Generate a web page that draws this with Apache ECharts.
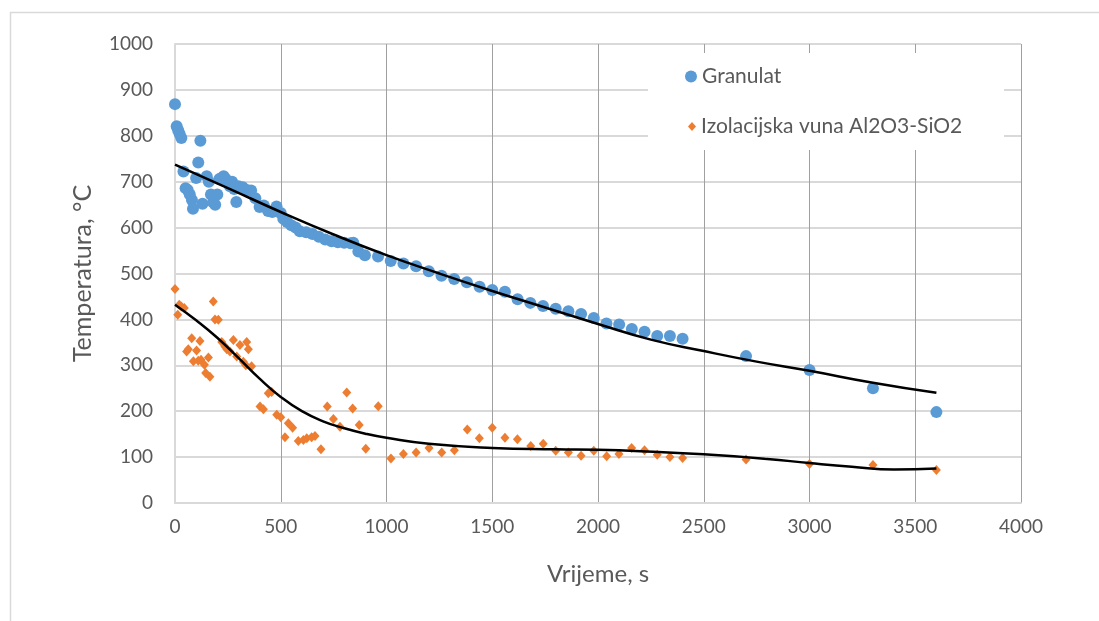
<!DOCTYPE html>
<html>
<head>
<meta charset="utf-8">
<script src="https://cdn.jsdelivr.net/npm/echarts@6/dist/echarts.min.js"></script>
<style>
html,body{margin:0;padding:0;background:#fff;}
#c{width:1099px;height:621px;}
</style>
</head>
<body>
<div id="c"></div>
<script>
// Granulat (time s, temperature °C)
const granulatTime = [0,8,15,22,30,40,50,60,70,80,85,100,110,120,130,150,160,170,180,190,200,210,220,230,240,250,260,270,280,290,300,320,340,360,380,400,420,440,460,480,500,512,530,550,570,590,620,650,680,710,740,770,800,830,843,867,898,960,1020,1080,1140,1200,1260,1320,1380,1440,1500,1560,1620,1680,1740,1800,1860,1920,1980,2040,2100,2160,2220,2280,2340,2400,2700,3000,3300,3600];
const granulatTemp = [869,821,812,804,795,722,686,682,672,660,641,708,742,789,652,712,700,672,655,650,672,706,708,712,706,698,690,700,684,656,690,688,682,681,664,645,648,636,634,646,632,619,612,605,600,592,590,586,580,574,570,568,567,566,567,548,540,537,527,522,516,505,495,488,481,471,464,460,444,436,429,423,418,412,403,391,389,379,373,364,364,358,320,290,250,198];

// Izolacijska vuna Al2O3-SiO2 (time s, temperature °C)
const vunaTime = [0,13,20,30,44,55,63,79,87,102,110,118,123,139,145,158,165,181,189,205,221,236,245,260,276,292,307,323,335,339,347,362,402,418,441,457,481,500,520,536,556,583,607,623,646,662,690,720,749,780,812,840,871,902,961,1021,1080,1140,1201,1261,1321,1382,1439,1500,1560,1619,1682,1741,1800,1860,1920,1980,2041,2099,2159,2220,2280,2340,2400,2700,3000,3300,3600];
const vunaTemp = [466,410,432,428,425,330,335,359,309,332,310,353,312,301,283,317,275,439,400,399,351,341,335,330,355,319,344,308,300,351,335,298,210,204,239,242,192,187,143,174,164,135,137,141,143,146,117,210,183,166,241,206,170,118,211,97,107,110,120,110,115,160,141,164,142,139,124,129,114,110,103,114,102,107,120,115,105,100,98,95,85,83,72];

// Trendlines
const granulatTrendTime = [0,250,500,750,1000,1250,1500,1750,2000,2250,2500,2750,3000,3300,3600];
const granulatTrendTemp = [737,686,634,585,540,500,462,426,390,356,331,308,288,262,240];
const vunaTrendTime = [0,100,200,300,400,500,600,700,800,900,1000,1200,1500,1800,2000,2200,2500,2800,3000,3200,3400,3600];
const vunaTrendTemp = [432,398,360,316,271,231,200,178,163,151,142,129,120,117,116,113,106,96,87,79,73,75];

const xTicks = [0,500,1000,1500,2000,2500,3000,3500,4000];
const yTicks = [0,100,200,300,400,500,600,700,800,900,1000];

const seriesNames = ['Granulat','Izolacijska vuna Al2O3-SiO2'];
const xTitle = 'Vrijeme, s';
const yTitle = 'Temperatura, °C';

const zip = (a,b) => a.map((v,i)=>[v,b[i]]);
const FONT = 'Lato, "Open Sans", sans-serif';
const TXT = '#595959';

const chart = echarts.init(document.getElementById('c'), null, {renderer:'canvas'});
chart.setOption({
  animation:false,
  backgroundColor:'#fff',
  graphic:[
    {type:'rect', left:8, top:10, shape:{width:1200, height:700}, style:{fill:'none', stroke:'#d9d9d9', lineWidth:1.5}, z:0, silent:true},
    {type:'rect', left:648, top:53, shape:{width:356, height:97}, style:{fill:'#ffffff'}, z:5, silent:true}
  ],
  grid:{left:175, right:78, top:44, bottom:118, containLabel:false},
  legend:[
    {data:[{name:seriesNames[0], icon:'circle'}], left:685, top:66, padding:0, itemWidth:12, itemHeight:12,
     textStyle:{fontFamily:FONT, fontSize:21, color:TXT}, z:10, selectedMode:false},
    {data:[{name:seriesNames[1], icon:'diamond'}], left:688, top:116, padding:0, itemWidth:8, itemHeight:9,
     textStyle:{fontFamily:FONT, fontSize:21, color:TXT}, z:10, selectedMode:false}
  ],
  xAxis:{
    type:'value', min:xTicks[0], max:xTicks[xTicks.length-1], interval:500,
    name:xTitle, nameLocation:'middle', nameGap:59,
    nameTextStyle:{fontFamily:FONT, fontSize:24, color:TXT},
    axisLine:{show:true, onZero:false, lineStyle:{color:'#d9d9d9', width:2}},
    axisTick:{show:false},
    axisLabel:{fontFamily:FONT, fontSize:19, color:TXT, margin:14, formatter:v=>String(v)},
    splitLine:{show:true, showMinLine:false, lineStyle:{color:'#a0a0a0', width:1}}
  },
  yAxis:{
    type:'value', min:yTicks[0], max:yTicks[yTicks.length-1], interval:100,
    name:yTitle, nameLocation:'middle', nameGap:80, nameRotate:90,
    nameTextStyle:{fontFamily:FONT, fontSize:25, color:TXT},
    axisLine:{show:true, lineStyle:{color:'#d9d9d9', width:2}},
    axisTick:{show:false},
    axisLabel:{fontFamily:FONT, fontSize:19, color:TXT, margin:22, formatter:v=>String(v)},
    splitLine:{show:true, lineStyle:{color:'#d9d9d9', width:2}}
  },
  series:[
    {name:seriesNames[0], type:'scatter', data:zip(granulatTime, granulatTemp), symbol:'circle', symbolSize:12,
     itemStyle:{color:'#5b9bd5', opacity:1}, z:3},
    {name:seriesNames[1], type:'scatter', data:zip(vunaTime, vunaTemp), symbol:'diamond', symbolSize:[9,10],
     itemStyle:{color:'#ed7d31', opacity:1}, z:3},
    {name:'trend1', type:'line', data:zip(granulatTrendTime, granulatTrendTemp), smooth:0.5, showSymbol:false, symbol:'none',
     lineStyle:{color:'#000', width:2.5}, z:4, silent:true},
    {name:'trend2', type:'line', data:zip(vunaTrendTime, vunaTrendTemp), smooth:0.5, showSymbol:false, symbol:'none',
     lineStyle:{color:'#000', width:2.5}, z:4, silent:true}
  ]
});
</script>
</body>
</html>
